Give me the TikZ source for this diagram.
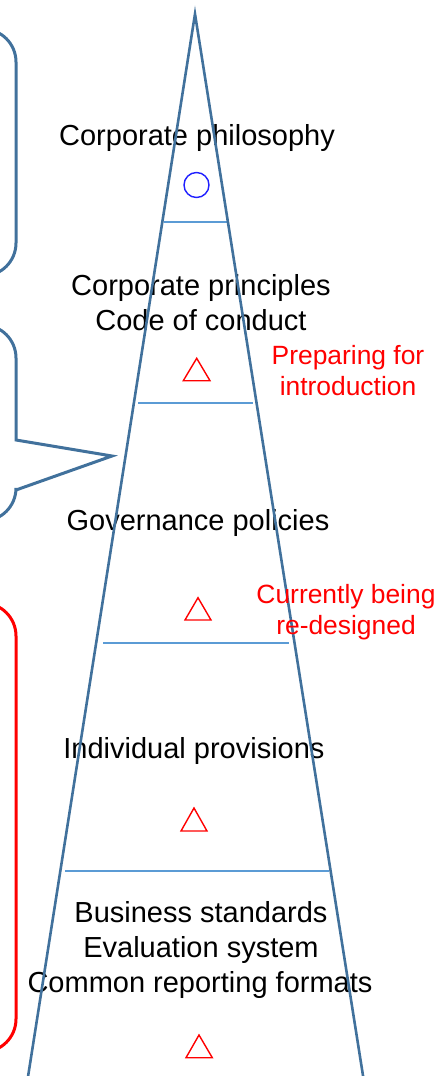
\documentclass[tikz,border=0pt]{standalone}
\usepackage{fontspec}
\setmainfont{Liberation Sans}
\definecolor{edgeblue}{HTML}{41719C}
\definecolor{tierblue}{HTML}{5B9BD5}
\definecolor{markblue}{HTML}{2020FF}
\definecolor{alertred}{HTML}{FF0000}
\begin{document}
\begin{tikzpicture}[x=1pt,y=-1pt,
  level/.style={anchor=base,inner sep=0pt,font=\fontsize{29}{35}\selectfont,text=black},
  status/.style={anchor=base,inner sep=0pt,font=\fontsize{26.4}{31}\selectfont,text=alertred},
  sidebox/.style={draw=edgeblue,line width=3pt,rounded corners=33pt},
  tier/.style={draw=tierblue,line width=1.3pt},
  statusmark/.style={line width=1.4pt,line join=miter}]
\useasboundingbox (0,0) rectangle (445,1076);
\clip (0,0) rectangle (445,1076);

% side panels, running off the left edge
\draw[sidebox] (-200,29) rectangle (16,276);
\draw[sidebox,sharp corners] (-200,325) [rounded corners=33pt] -- (16,325)
  [sharp corners] -- (16,440) -- (112,456) -- (16,490)
  [rounded corners=33pt] -- (16,521) [sharp corners] -- (-200,521);
\draw[sidebox,draw=alertred] (-200,603) rectangle (16,1052);

% tier separators
\draw[tier] (164,222) -- (227,222);
\draw[tier] (138,403) -- (253,403);
\draw[tier] (103,643) -- (289,643);
\draw[tier] (65,871) -- (329,871);

% level labels
\node[level] (philosophy) at (197,145) {Corporate philosophy};
\node[level] (principles) at (201,295) {Corporate principles};
\node[level] (conduct) at (201,330) {Code of conduct};
\node[level] (governance) at (198,530) {Governance policies};
\node[level] (provisions) at (194,758) {Individual provisions};
\node[level] (standards) at (201,922) {Business standards};
\node[level] (evaluation) at (201,957) {Evaluation system};
\node[level] (reporting) at (200,992) {Common reporting formats};

% status marks
\draw[statusmark,draw=markblue] (196.5,185) circle (12.5);
\draw[statusmark,draw=alertred] (183.3,380.7) -- (210,380.7) -- (196.7,358.3) -- cycle;
\draw[statusmark,draw=alertred] (185,620) -- (211,620) -- (198,597.7) -- cycle;
\draw[statusmark,draw=alertred] (181,831) -- (207,831) -- (194,808) -- cycle;
\draw[statusmark,draw=alertred] (186,1057.7) -- (212.3,1057.7) -- (199,1035) -- cycle;

% pyramid outline
\draw[draw=edgeblue,line width=2.6pt,line join=miter] (25.6,1092) -- (195,14) -- (365.6,1092);

% status notes
\node[status] (prep1) at (348,364) {Preparing for};
\node[status] (prep2) at (348,395) {introduction};
\node[status] (redo1) at (346,603) {Currently being};
\node[status] (redo2) at (346,634) {re-designed};
\end{tikzpicture}
\end{document}
